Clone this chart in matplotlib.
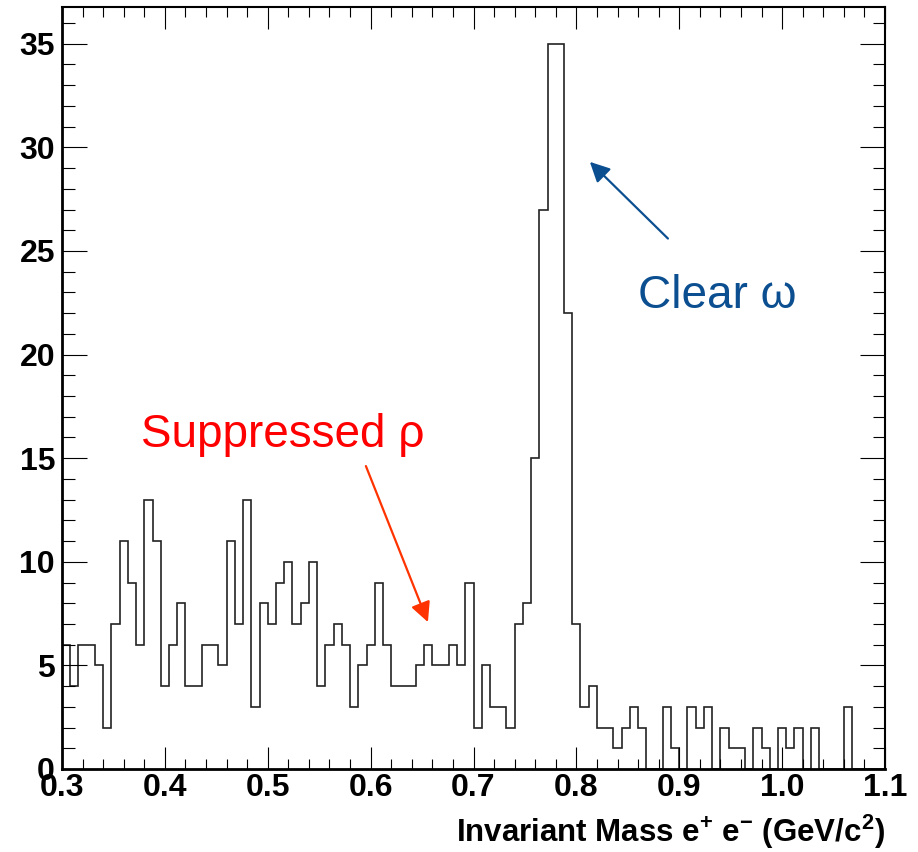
import numpy as np
import matplotlib
matplotlib.use("Agg")
import matplotlib.pyplot as plt
from matplotlib.ticker import MultipleLocator, FormatStrFormatter

plt.rcParams['font.family'] = ['Liberation Sans', 'DejaVu Sans']
plt.rcParams['mathtext.fontset'] = 'custom'
plt.rcParams['mathtext.rm'] = 'Liberation Sans:bold'
plt.rcParams['mathtext.bf'] = 'Liberation Sans:bold'
plt.rcParams['mathtext.default'] = 'rm'

# Histogram: 100 bins of 0.008 GeV/c^2 from 0.3 to 1.1
bin_low = 0.3
bin_width = 0.008
counts = [6, 4, 6, 6, 5, 2, 7, 11, 9, 6,
          13, 11, 4, 6, 8, 4, 4, 6, 6, 5,
          11, 7, 13, 3, 8, 7, 9, 10, 7, 8,
          10, 4, 6, 7, 6, 3, 5, 6, 9, 6,
          4, 4, 4, 5, 6, 5, 5, 6, 5, 9,
          2, 5, 3, 3, 2, 7, 8, 15, 27, 35,
          35, 22, 7, 3, 4, 2, 2, 1, 2, 3,
          2, 0, 0, 3, 1, 0, 3, 2, 3, 0,
          2, 1, 1, 0, 2, 1, 0, 2, 1, 2,
          0, 2, 0, 0, 0, 3, 0, 0, 0, 0]

x_ticks = [0.3, 0.4, 0.5, 0.6, 0.7, 0.8, 0.9, 1.0, 1.1]
y_ticks = [0, 5, 10, 15, 20, 25, 30, 35]

edges = bin_low + bin_width * np.arange(len(counts) + 1)

fig = plt.figure(figsize=(9.18, 8.52), dpi=100)
ax = fig.add_axes([62/918, 1 - 769/852, (885 - 62)/918, (769 - 7.5)/852])

ax.stairs(counts, edges, color='#222222', lw=1.2, baseline=0)

ax.set_xlim(edges[0], edges[-1])
ax.set_ylim(0, 1.05 * max(counts))

ax.set_xticks(x_ticks)
ax.set_yticks(y_ticks)
ax.xaxis.set_major_formatter(FormatStrFormatter('%.1f'))
ax.xaxis.set_minor_locator(MultipleLocator(0.02))
ax.yaxis.set_minor_locator(MultipleLocator(1))

ax.tick_params(which='both', direction='in', top=True, right=True, width=0.8)
ax.tick_params(axis='x', which='major', length=15.5, pad=3, labelsize=23)
ax.tick_params(axis='x', which='minor', length=7.5)
ax.tick_params(axis='y', which='major', length=18, pad=5, labelsize=23)
ax.tick_params(axis='y', which='minor', length=9)
for lab in ax.get_xticklabels() + ax.get_yticklabels():
    lab.set_fontweight('bold')

for s in ['left', 'bottom']:
    ax.spines[s].set_linewidth(2.0)
for s in ['top', 'right']:
    ax.spines[s].set_linewidth(1.5)

fig.text(885/918, 1 - 832/852, r'Invariant Mass e$^{+}$ e$^{-}$ (GeV/c$^{2}$)',
         ha='right', va='center', fontsize=22.5, fontweight='bold')

blue = '#0b4f91'
red_txt = '#ff0000'
red_arr = '#ff3300'

ax.text(0.8598, 22.25, 'Clear ω', color=blue, fontsize=33, ha='left', va='baseline')
ax.annotate('', xy=(0.8131, 29.3), xytext=(0.889, 25.6),
            arrowprops=dict(arrowstyle='-|>,head_length=0.6,head_width=0.3',
                            color=blue, lw=1.6, mutation_scale=20,
                            shrinkA=0, shrinkB=0))

ax.text(0.3768, 15.54, 'Suppressed ρ', color=red_txt, fontsize=33, ha='left', va='baseline')
ax.annotate('', xy=(0.6557, 7.09), xytext=(0.5954, 14.62),
            arrowprops=dict(arrowstyle='-|>,head_length=0.6,head_width=0.3',
                            color=red_arr, lw=1.6, mutation_scale=20,
                            shrinkA=0, shrinkB=0))

fig.savefig('out.png', dpi=100)
